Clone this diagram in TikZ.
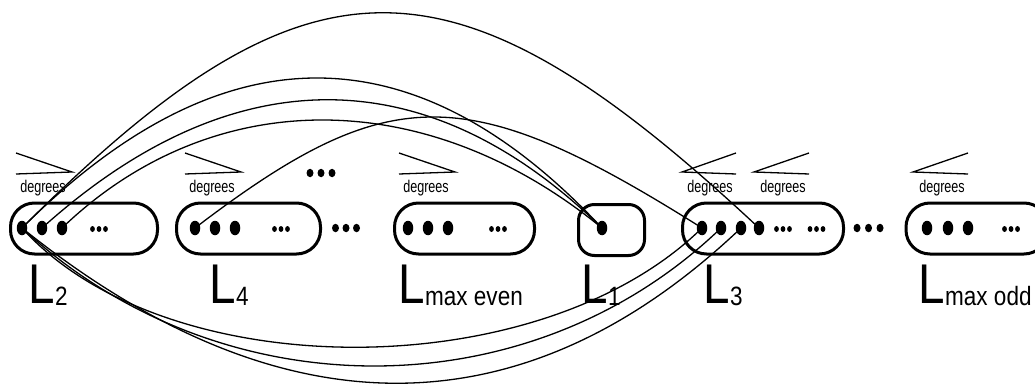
\documentclass[tikz,border=0pt]{standalone}
\usepackage{fontspec}
\setmainfont{Liberation Sans}
\newfontfamily\Lfont[FakeStretch=0.85]{Liberation Sans}
\newfontfamily\degfont[FakeStretch=0.74]{Liberation Sans}
\usetikzlibrary{shapes.geometric}
\newcommand{\lvl}[1]{{\Lfont\fontsize{56}{56}\selectfont L}{\Lfont\fontsize{26.5}{27}\selectfont\raisebox{-2pt}{#1}}}
\tikzset{
  bigdot/.style={ellipse, fill=black, inner sep=0pt, minimum width=10.5pt, minimum height=14.5pt},
  tinydot/.style={ellipse, fill=black, inner sep=0pt, minimum width=4.8pt, minimum height=6pt},
  middot/.style={ellipse, fill=black, inner sep=0pt, minimum width=7pt, minimum height=8.5pt},
  level/.style={draw=black, line width=3pt, rounded corners=24pt, minimum height=51pt, inner sep=0pt},
  link/.style={line width=1.3pt},
  wedge/.style={line width=1.3pt},
  deg/.style={inner sep=0pt, anchor=base, font=\degfont\fontsize{17}{18}\selectfont},
  lname/.style={inner sep=0pt, anchor=base west},
}
\begin{document}
\begin{tikzpicture}[x=1pt,y=-1pt]
\useasboundingbox (0,0) rectangle (1035,385);
\clip (0,0) rectangle (1035,385);
% level boxes
\node[level, minimum width=147pt] (b2) at (84,228.5) {};
\node[level, minimum width=144pt] (b4) at (248.5,228.5) {};
\node[level, minimum width=140pt] (bme) at (464.5,228.5) {};
\node[level, minimum width=66pt, rounded corners=16pt] (b1) at (611.5,230) {};
\node[level, minimum width=161pt] (b3) at (763,228.5) {};
\node[level, minimum width=142pt] (bmo) at (977,228.5) {};
% big dots
\node[bigdot] (d2a) at (22,228) {};
\node[bigdot] (d2b) at (42,228) {};
\node[bigdot] (d2c) at (62,228) {};
\node[bigdot] (d4a) at (195,228) {};
\node[bigdot] (d4b) at (215,228) {};
\node[bigdot] (d4c) at (235,228) {};
\node[bigdot] (dea) at (408,228) {};
\node[bigdot] (deb) at (428,228) {};
\node[bigdot] (dec) at (448,228) {};
\node[bigdot] (d1) at (602,228) {};
\node[bigdot] (d3a) at (702,228) {};
\node[bigdot] (d3b) at (721,228) {};
\node[bigdot] (d3c) at (741,228) {};
\node[bigdot] (d3d) at (759,228) {};
\node[bigdot] (doa) at (927,228) {};
\node[bigdot] (dob) at (948,228) {};
\node[bigdot] (doc) at (968,228) {};
% small ellipsis dots inside boxes
\foreach \n/\cx in {t2/99, t4/281, te/498, t3p/783, t3q/816.5, to/1011}{
  \foreach \k/\dx in {a/-6.5, b/0, c/6.5}{
    \node[tinydot] (\n\k) at (\cx+\dx,229) {};
  }
}
% ellipsis dots between boxes and above
\foreach \n/\cx/\cy/\sp in {m1/346/228/10.5, m2/868.5/228/11.5, m3/321/173/11}{
  \foreach \k/\f in {a/-1, b/0, c/1}{
    \node[middot] (\n\k) at (\cx+\f*\sp,\cy) {};
  }
}
% connectors
\draw[link] (d2a.center) .. controls +(287,-287) and +(-307,-287) .. (d3d.center);
\draw[link] (d2a.center) .. controls +(200,-200) and +(-187,-200) .. (d1.center);
\draw[link] (d2b.center) .. controls +(190,-171) and +(-175,-171) .. (d1.center);
\draw[link] (d2c.center) .. controls +(150,-144) and +(-176,-144) .. (d1.center);
\draw[link] (d4a.center) .. controls +(194,-148) and +(-235,-148) .. (d3a.center);
\draw[link] (d2a.center) .. controls +(143,159) and +(-162,159) .. (d3a.center);
\draw[link] (d2a.center) .. controls +(198,184) and +(-191,184) .. (d3b.center);
\draw[link] (d2a.center) .. controls +(258,207) and +(-218,207) .. (d3c.center);
% degree wedges
\draw[wedge] (16,153) -- (72,172) -- (16,174);
\draw[wedge] (185,153) -- (241,172) -- (185,174);
\draw[wedge] (399,153) -- (455,172) -- (399,174);
\draw[wedge] (736,153) -- (682,172) -- (736,174);
\draw[wedge] (809,153) -- (754,172) -- (809,174);
\draw[wedge] (968,153) -- (913,172) -- (968,174);
% degree texts
\node[deg] (g2) at (43,192) {degrees};
\node[deg] (g4) at (212,192) {degrees};
\node[deg] (ge) at (426,192) {degrees};
\node[deg] (g3a) at (710,192) {degrees};
\node[deg] (g3b) at (783,192) {degrees};
\node[deg] (go) at (942,192) {degrees};
% level names
\node[lname] (n2) at (28.5,303) {\lvl{2}};
\node[lname] (n4) at (209.5,303) {\lvl{4}};
\node[lname] (ne) at (398.5,303) {\lvl{max even}};
\node[lname] (n1) at (581.5,303) {\lvl{1}};
\node[lname] (n3) at (703.5,303) {\lvl{3}};
\node[lname] (no) at (918.5,303) {\lvl{max odd}};
\end{tikzpicture}
\end{document}
